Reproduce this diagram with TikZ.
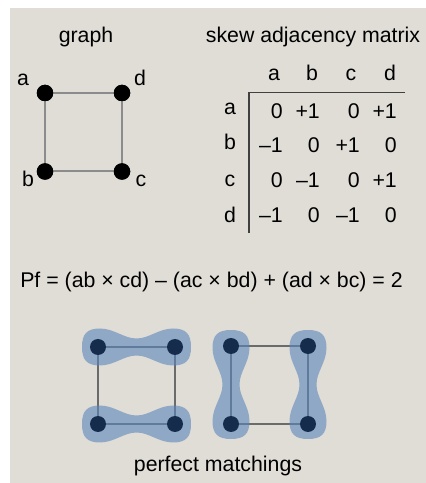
\documentclass[tikz,border=0pt]{standalone}
\usepackage{fontspec}
\setmainfont{Liberation Sans}

\definecolor{panel}{HTML}{E0DDD6}
\definecolor{navy}{HTML}{152C4D}
\definecolor{bluefill}{HTML}{5985BC}

\tikzset{
  vertex/.style = {circle, fill=black, minimum size=16.5pt, inner sep=0pt},
  mvertex/.style = {circle, fill=navy, minimum size=16pt, inner sep=0pt},
  lbl/.style = {anchor=base, inner sep=0pt},
  entry/.style = {anchor=base east, inner sep=0pt},
  gedge/.style = {draw=gray!90, line width=2pt},
  medge/.style = {draw=black!58, line width=2pt},
  rule/.style = {draw=black!75, line width=1.6pt},
  match/.pic = {
    \fill[bluefill, fill opacity=0.6] (-16,0) .. controls (-16,13) and (-11,18.5) .. (2,18.5)
      .. controls (16,18.5) and (26,8.5) .. (38.5,8.5)
      .. controls (51,8.5) and (61,18.5) .. (75,18.5)
      .. controls (88,18.5) and (93,13) .. (93,0)
      .. controls (93,-13) and (88,-18.5) .. (75,-18.5)
      .. controls (61,-18.5) and (51,-8.5) .. (38.5,-8.5)
      .. controls (26,-8.5) and (16,-18.5) .. (2,-18.5)
      .. controls (-11,-18.5) and (-16,-13) .. cycle;
  }
}

\begin{document}
\begin{tikzpicture}[x=1pt, y=1pt, font=\fontsize{21.3}{25}\selectfont]
	\useasboundingbox (0,0) rectangle (426,483);
	\fill[panel] (10,0) rectangle (426,475);

	%titles
	\node[lbl](graphtitle) at (86,440){graph};
	\node[lbl](matrixtitle) at (313,440){skew adjacency matrix};

	%nodes for the graph
	\node[vertex](a) at (45,390){};
	\node[vertex](d) at (122,390){};
	\node[vertex](b) at (45,311.5){};
	\node[vertex](c) at (122,311.5){};
	\node[lbl](la) at (23,397){a};
	\node[lbl](ld) at (140,397){d};
	\node[lbl](lb) at (28,296){b};
	\node[lbl](lc) at (141,296){c};

	%edges
	\path[gedge] (a) -- (d) -- (c) -- (b) -- (a);
	\node[vertex] at (a){};
	\node[vertex] at (d){};
	\node[vertex] at (b){};
	\node[vertex] at (c){};

	%matrix
	\foreach \col/\x in {a/274, b/312, c/351, d/390}
		\node[lbl](h\col) at (\x,402){\col};
	\node[lbl](ra) at (230,368){a};
	\node[lbl](rb) at (230,333){b};
	\node[lbl](rc) at (230,296){c};
	\node[lbl](rd) at (230,260){d};
	\foreach \v/\x/\col in {0/283/a, +1/320/b, 0/360/c, +1/397/d}
		\node[entry](a\col) at (\x,364){\v};
	\foreach \v/\x/\col in {–1/283/a, 0/320/b, +1/360/c, 0/397/d}
		\node[entry](b\col) at (\x,330.5){\v};
	\foreach \v/\x/\col in {0/283/a, –1/320/b, 0/360/c, +1/397/d}
		\node[entry](c\col) at (\x,295){\v};
	\foreach \v/\x/\col in {–1/283/a, 0/320/b, –1/360/c, 0/397/d}
		\node[entry](d\col) at (\x,260){\v};
	\coordinate (corner) at (249,390.3);
	\coordinate (rightend) at (405,390.3);
	\coordinate (bottomend) at (249,250.3);
	\path[rule] (rightend) -- (corner) -- (bottomend);

	%Pfaffian
	\node[lbl](pf) at (211.5,195){Pf = (ab × cd) – (ac × bd) + (ad × bc) = 2};

	%perfect matchings
	\coordinate (m1a) at (98,136);
	\coordinate (m1d) at (175,136);
	\coordinate (m1b) at (98,59);
	\coordinate (m1c) at (175,59);
	\coordinate (m2a) at (231,137);
	\coordinate (m2d) at (308,137);
	\coordinate (m2b) at (231,59);
	\coordinate (m2c) at (308,59);
	\path[medge] (m1a) -- (m1d) -- (m1c) -- (m1b) -- (m1a);
	\path[medge] (m2a) -- (m2d) -- (m2c) -- (m2b) -- (m2a);
	\pic at (m1a) {match};
	\pic at (m1b) {match};
	\pic[rotate=-90] at (m2a) {match};
	\pic[rotate=-90] at (m2d) {match};
	\foreach \n in {m1a, m1b, m1c, m1d, m2a, m2b, m2c, m2d}
		\node[mvertex](v\n) at (\n){};

	\node[lbl](pmtitle) at (218,11.5){perfect matchings};
\end{tikzpicture}
\end{document}
